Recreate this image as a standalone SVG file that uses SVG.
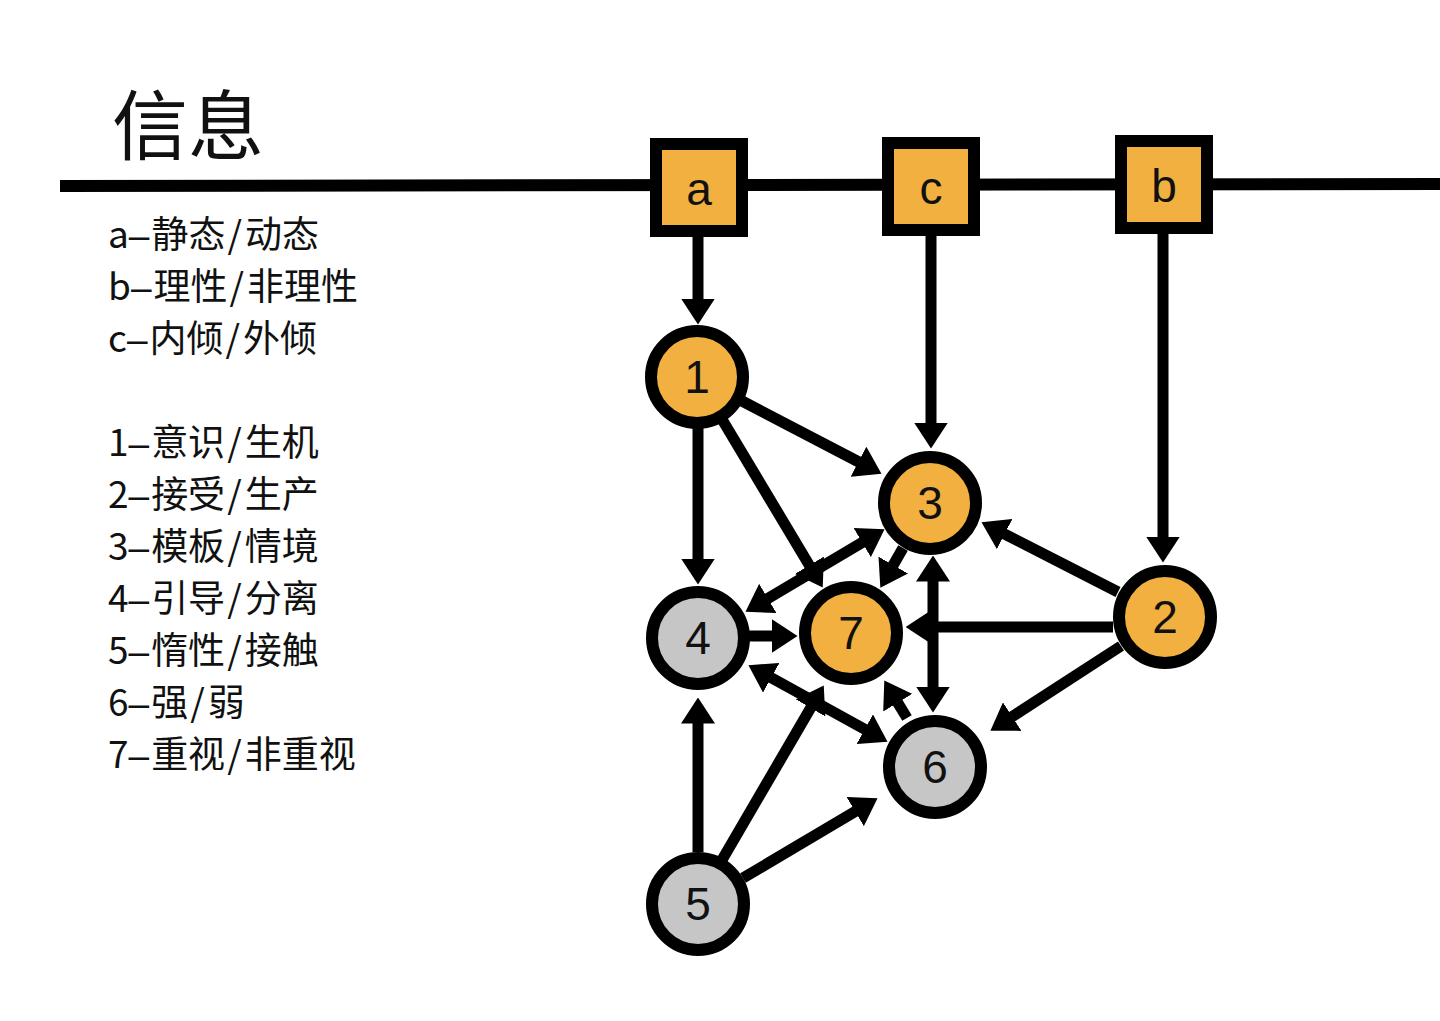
<svg xmlns="http://www.w3.org/2000/svg" width="1440" height="1021" viewBox="0 0 1440 1021">
<defs>
<style>
.bg{fill:#ffffff}
.rule{stroke:#000;stroke-width:12;fill:none}
.e{stroke:#000;stroke-width:11;fill:none;stroke-linecap:butt}
.halo{stroke:#fff;stroke-width:29;fill:none;stroke-linecap:butt}
.on{fill:#F1B03F;stroke:#000;stroke-width:12}
.off{fill:#C6C6C6;stroke:#000;stroke-width:12}
.lbl{font-family:"Liberation Sans","Noto Sans CJK SC",Arial,sans-serif;font-size:46px;fill:#111;text-anchor:middle}
.leg{font-family:"Noto Sans CJK SC","Noto Sans",sans-serif;font-size:37px;fill:#111}
.d{font-family:"Liberation Sans",Arial,sans-serif}
.title{font-family:"Noto Sans CJK SC",sans-serif;font-size:76px;fill:#111}
</style>
<marker id="ah" viewBox="0 0 26 34" refX="0.5" refY="17" markerWidth="26" markerHeight="34" markerUnits="userSpaceOnUse" orient="auto-start-reverse">
<path d="M0,0 L26,17 L0,34 z" fill="#000"/>
</marker>
</defs>
<rect class="bg" x="0" y="0" width="1440" height="1021"/>

<g id="texts">
<text class="title" x="112" y="154">信息</text>
<text class="leg" x="108" y="248">a<tspan class="d">–</tspan><tspan dx="2">静态</tspan><tspan dx="2">/</tspan><tspan dx="3">动态</tspan></text>
<text class="leg" x="108" y="300">b<tspan class="d">–</tspan><tspan dx="2">理性</tspan><tspan dx="2">/</tspan><tspan dx="3">非理性</tspan></text>
<text class="leg" x="108" y="352">c<tspan class="d">–</tspan><tspan dx="2">内倾</tspan><tspan dx="2">/</tspan><tspan dx="3">外倾</tspan></text>
<text class="leg" x="108" y="456">1<tspan class="d">–</tspan><tspan dx="2">意识</tspan><tspan dx="2">/</tspan><tspan dx="3">生机</tspan></text>
<text class="leg" x="108" y="508">2<tspan class="d">–</tspan><tspan dx="2">接受</tspan><tspan dx="2">/</tspan><tspan dx="3">生产</tspan></text>
<text class="leg" x="108" y="560">3<tspan class="d">–</tspan><tspan dx="2">模板</tspan><tspan dx="2">/</tspan><tspan dx="3">情境</tspan></text>
<text class="leg" x="108" y="612">4<tspan class="d">–</tspan><tspan dx="2">引导</tspan><tspan dx="2">/</tspan><tspan dx="3">分离</tspan></text>
<text class="leg" x="108" y="664">5<tspan class="d">–</tspan><tspan dx="2">惰性</tspan><tspan dx="2">/</tspan><tspan dx="3">接触</tspan></text>
<text class="leg" x="108" y="716">6<tspan class="d">–</tspan><tspan dx="2">强</tspan><tspan dx="2">/</tspan><tspan dx="3">弱</tspan></text>
<text class="leg" x="108" y="768">7<tspan class="d">–</tspan><tspan dx="2">重视</tspan><tspan dx="2">/</tspan><tspan dx="3">非重视</tspan></text>
</g>

<g id="axis">
<line class="rule" x1="60" y1="186" x2="1440" y2="184"/>
</g>

<g id="connectors">
<line class="e" x1="698" y1="237" x2="698" y2="299" marker-end="url(#ah)"/>
<line class="e" x1="931" y1="236" x2="931" y2="423" marker-end="url(#ah)"/>
<line class="e" x1="1163" y1="234" x2="1163" y2="537" marker-end="url(#ah)"/>
<line class="e" x1="742" y1="401" x2="858.9" y2="462" marker-end="url(#ah)"/>
<line class="e" x1="698" y1="428" x2="698" y2="559" marker-end="url(#ah)"/>
<line class="e" x1="723" y1="421" x2="809.6" y2="565.7" marker-end="url(#ah)"/>
<line class="e" x1="767.4" y1="598.7" x2="862.6" y2="542.3" marker-start="url(#ah)" marker-end="url(#ah)"/>
<line class="e" x1="933" y1="581" x2="933" y2="687" marker-start="url(#ah)" marker-end="url(#ah)"/>
<line class="e" x1="1118" y1="592" x2="1004.2" y2="533.8" marker-end="url(#ah)"/>
<line class="e" x1="1113" y1="627" x2="931" y2="627" marker-end="url(#ah)"/>
<line class="e" x1="1121" y1="646" x2="1011.8" y2="716.9" marker-end="url(#ah)"/>
<line class="e" x1="770.8" y1="677.5" x2="865.2" y2="729.5" marker-start="url(#ah)" marker-end="url(#ah)"/>
<line class="e" x1="698" y1="852" x2="698" y2="723" marker-end="url(#ah)"/>
<line class="e" x1="722" y1="860" x2="810.9" y2="707.5" marker-end="url(#ah)"/>
<line class="e" x1="743" y1="878" x2="855.6" y2="811.3" marker-end="url(#ah)"/>
<line class="halo" x1="903" y1="548" x2="893" y2="565.5"/>
<line class="e" x1="903" y1="548" x2="893" y2="565.5" marker-end="url(#ah)"/>
<line class="halo" x1="750" y1="636" x2="772" y2="636"/>
<line class="e" x1="748" y1="636" x2="772" y2="636" marker-end="url(#ah)"/>
<line class="halo" x1="907" y1="718" x2="897.5" y2="702.3"/>
<line class="e" x1="907" y1="718" x2="897.5" y2="702.3" marker-end="url(#ah)"/>
</g>

<g id="node-a"><rect class="on" x="656" y="144" width="86" height="87"/><text class="lbl" x="699" y="205">a</text></g>
<g id="node-c"><rect class="on" x="888" y="143" width="86" height="87"/><text class="lbl" x="931" y="204">c</text></g>
<g id="node-b"><rect class="on" x="1121" y="141" width="86" height="87"/><text class="lbl" x="1164" y="202">b</text></g>

<g id="node-1"><circle class="on" cx="697" cy="377" r="46"/><text class="lbl" x="697" y="393">1</text></g>
<g id="node-3"><circle class="on" cx="930" cy="503" r="46"/><text class="lbl" x="930" y="519">3</text></g>
<g id="node-2"><circle class="on" cx="1165" cy="617" r="46"/><text class="lbl" x="1165" y="633">2</text></g>
<g id="node-4"><circle class="off" cx="698" cy="638" r="46"/><text class="lbl" x="698" y="654">4</text></g>
<g id="node-7"><circle class="on" cx="851" cy="633" r="46"/><text class="lbl" x="851" y="649">7</text></g>
<g id="node-6"><circle class="off" cx="935" cy="767" r="46"/><text class="lbl" x="935" y="783">6</text></g>
<g id="node-5"><circle class="off" cx="698" cy="904" r="46"/><text class="lbl" x="698" y="920">5</text></g>
</svg>
